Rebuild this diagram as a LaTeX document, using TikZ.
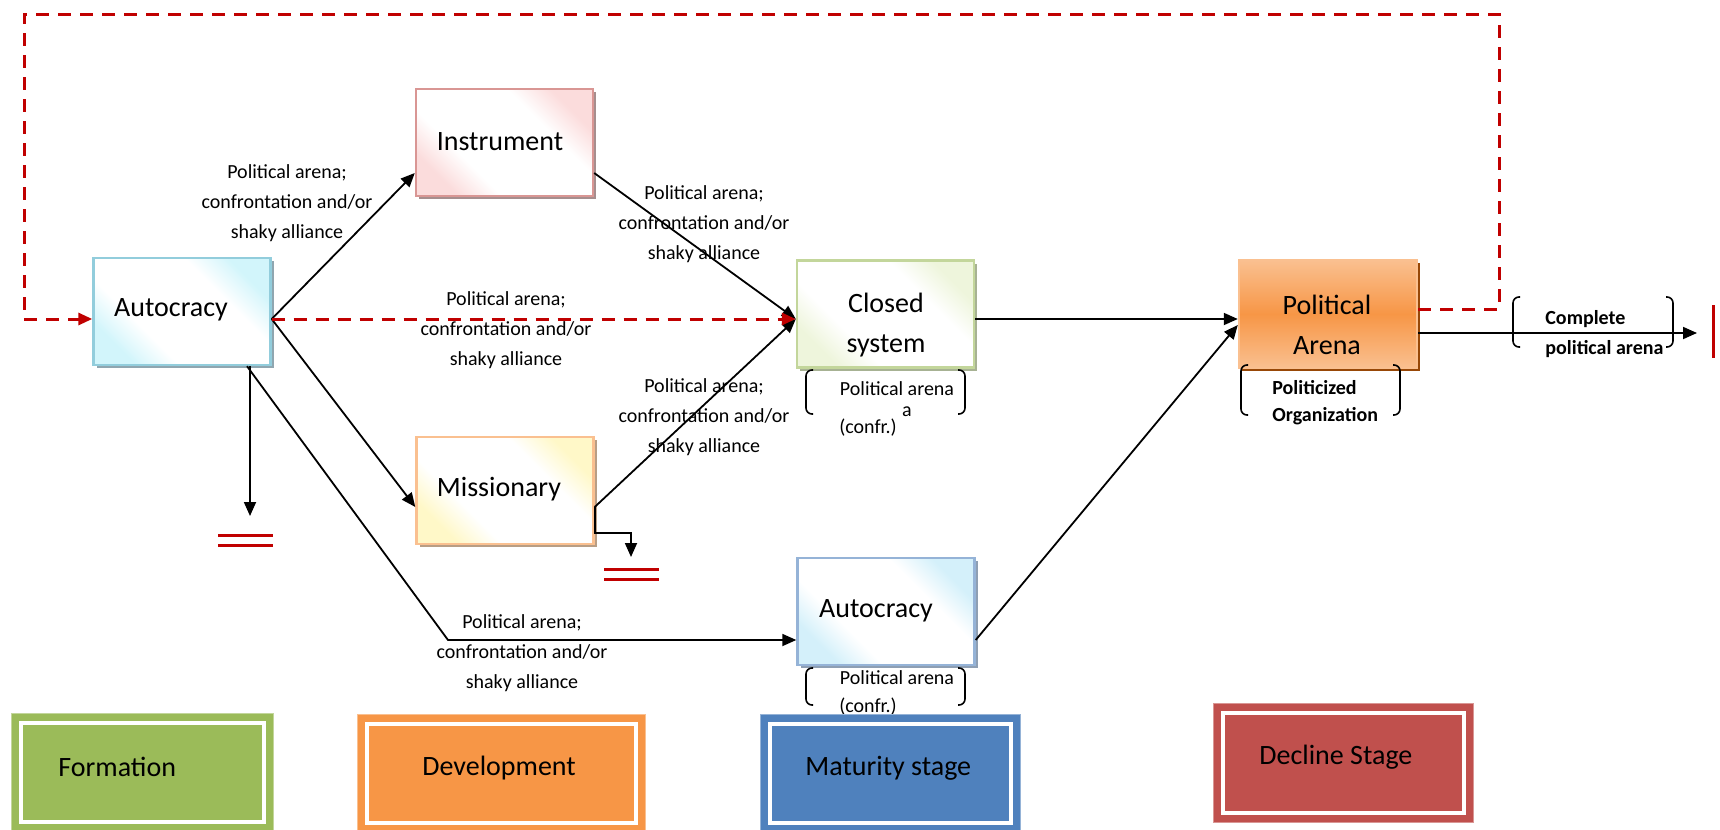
\documentclass[tikz,border=0pt]{standalone}
\usepackage{fontspec}
\setmainfont{Carlito}
\usetikzlibrary{arrows.meta,shadows,calc}
\definecolor{cred}{HTML}{C00000}
\definecolor{bdA}{HTML}{92CDDC}\definecolor{tA}{HTML}{D2F5FB}\definecolor{sA}{HTML}{8FA6B0}
\definecolor{bdI}{HTML}{D99694}\definecolor{tI}{HTML}{FBDCDC}\definecolor{sI}{HTML}{A68E8E}
\definecolor{bdC}{HTML}{C3D69B}\definecolor{tC}{HTML}{EEF5DC}\definecolor{sC}{HTML}{A7B293}
\definecolor{bdM}{HTML}{FAC090}\definecolor{tM}{HTML}{FFF8C8}\definecolor{sM}{HTML}{B89E85}
\definecolor{bdB}{HTML}{95B3D7}\definecolor{tB}{HTML}{D4F0FA}\definecolor{sB}{HTML}{8E9FB3}
\definecolor{paL}{HTML}{FAC090}\definecolor{paM}{HTML}{F79646}\definecolor{paS}{HTML}{984807}
\definecolor{lgF}{HTML}{9BBB59}\definecolor{lgD}{HTML}{F79646}\definecolor{lgM}{HTML}{4F81BD}\definecolor{lgR}{HTML}{C0504D}
\newcommand\mkshade[2]{\pgfdeclarehorizontalshading{#1}{100bp}{color(0bp)=(#2); color(25bp)=(#2); color(36bp)=(white); color(64bp)=(white); color(75bp)=(#2); color(100bp)=(#2)}}
\mkshade{shA}{tA}\mkshade{shI}{tI}\mkshade{shC}{tC}\mkshade{shM}{tM}\mkshade{shB}{tB}
\newcommand\brk[4]{%
  \draw[brkline] ({#1+7},#3) -- (#1,#3) -- (#1,#4) -- ({#1+7},#4);
  \draw[brkline] ({#2-7},#3) -- (#2,#3) -- (#2,#4) -- ({#2-7},#4);}
\tikzset{
  sbox/.style n args={3}{draw=#1, line width=1.2pt, shading=#2, shading angle=45,
    general shadow={fill=#3, shadow xshift=1.5pt, shadow yshift=-1.5pt},
    minimum width=88.5pt, minimum height=53.5pt, inner sep=0pt},
  mtxt/.style={font=\fontsize{14}{20}\selectfont, align=center, inner sep=0pt},
  lbl/.style={font=\fontsize{10}{15}\selectfont, align=center, inner sep=0pt},
  blbl/.style={font=\bfseries\fontsize{10}{15}\selectfont, align=left, inner sep=0pt, anchor=west},
  arr/.style={line width=0.9pt, -{Triangle[length=7pt,width=6pt]}},
  rdash/.style={cred, line width=1.5pt, dash pattern=on 6.5pt off 4.5pt},
  rbar/.style={cred, line width=1.5pt},
  brkline/.style={line width=0.8pt, rounded corners=3pt},
  legend/.style={fill=#1, draw=#1!60!white, line width=0.5pt, inner sep=0pt},
  legtxt/.style={font=\fontsize{14}{18}\selectfont, anchor=west, inner sep=0pt},
}
\begin{document}
\begin{tikzpicture}[x=0.5pt,y=-0.5pt]
\useasboundingbox (0,0) rectangle (1720,830);
% boxes
\node[sbox={bdA}{shA}{sA}] (auto1) at (182,311.5) {};
\node[sbox={bdI}{shI}{sI}] (instr) at (504.5,142.5) {};
\node[sbox={bdC}{shC}{sC}] (closed) at (885.5,314) {};
\node[sbox={bdM}{shM}{sM}] (miss) at (505,490.5) {};
\node[sbox={bdB}{shB}{sB}] (auto2) at (886,611.5) {};
\node[draw=paL, line width=1.2pt, top color=paL, bottom color=paL, middle color=paM,
  general shadow={fill=paS, shadow xshift=1.5pt, shadow yshift=-1.5pt},
  minimum width=89pt, minimum height=54pt, inner sep=0pt] (pa) at (1328,314) {};
% box texts
\node[mtxt] (auto1t) at (171,310) {Autocracy};
\node[mtxt] (instrt) at (500,142) {Instrument};
\node[mtxt] (closedt) at (886,325) {Closed\\system};
\node[mtxt] (misst) at (499,489) {Missionary};
\node[mtxt] (auto2t) at (876,611) {Autocracy};
\node[mtxt] (pat) at (1327,325) {Political\\Arena};
% coordinates
\coordinate (loopTR) at (1499,14);
\coordinate (loopTL) at (24,14);
\coordinate (autoend) at (250,516);
\coordinate (missend) at (631,557);
\coordinate (bend) at (448,640);
\coordinate (paend) at (1697,333);
% connectors
\draw[arr] ([yshift=-3.75pt]auto1.east) -- ([yshift=-15.25pt]instr.west);
\draw[arr] ([yshift=-3.75pt]auto1.east) -- ([yshift=-8.25pt]miss.west);
\draw[arr] ([yshift=-15.25pt]instr.east) -- ([yshift=-2.5pt]closed.west);
\draw[arr] ([yshift=-8.25pt]miss.east) -- ([yshift=-2.5pt]closed.west);
\draw[arr] ([yshift=-8.25pt]miss.east) -- ++(0,26) -| (missend);
\draw[arr] ([xshift=34pt]auto1.south) -- (autoend);
\draw[arr] ([xshift=32.5pt]auto1.south) -- (bend) -- ([yshift=-14.25pt]auto2.west);
\draw[arr] ([yshift=-2.5pt]closed.east) -- ([yshift=-2.5pt]pa.west);
\draw[arr] ([yshift=-14.25pt]auto2.east) -- ([yshift=-5.5pt]pa.west);
\draw[arr] ([yshift=-9.5pt]pa.east) -- (paend);
\draw[rdash, -{Triangle[length=7pt,width=6pt]}] ([yshift=-3.75pt]auto1.east) -- ([yshift=-2.5pt]closed.west);
\draw[rdash, -{Triangle[length=7pt,width=6pt]}] ([yshift=2.5pt]pa.east) -| (loopTR) -- (loopTL) |- ([yshift=-3.75pt]auto1.west);
% end bars
\draw[rbar] (218,535) -- (273,535);
\draw[rbar] (218,545) -- (273,545);
\draw[rbar] (604,569) -- (659,569);
\draw[rbar] (604,579) -- (659,579);
\draw[rbar] (1713,305) -- (1713,358);
% edge labels
\node[lbl] (l1) at (287,203) {Political arena;\\confrontation and/or\\shaky alliance};
\node[lbl] (l2) at (704,224) {Political arena;\\confrontation and/or\\shaky alliance};
\node[lbl] (l3) at (506,330) {Political arena;\\confrontation and/or\\shaky alliance};
\node[lbl] (l4) at (704,417) {Political arena;\\confrontation and/or\\shaky alliance};
\node[lbl] (l5) at (522,653) {Political arena;\\confrontation and/or\\shaky alliance};
% brackets
\brk{806}{965}{370}{414}
\node[lbl] (cb1) at (897,389) {Political arena};
\node[lbl] (cb2) at (868,428) {(confr.)};
\node[lbl] (cb3) at (907,412) {a};
\brk{806}{965}{668}{705}
\node[lbl] (ab1) at (897,678) {Political arena};
\node[lbl] (ab2) at (868,707) {(confr.)};
\brk{1241}{1400}{365}{415}
\node[blbl] (pb1) at (1272,388) {Politicized};
\node[blbl] (pb2) at (1272,416) {Organization};
\brk{1513}{1673}{297}{347}
\node[blbl] (cp1) at (1545,319) {Complete};
\node[blbl] (cp2) at (1545,349) {political arena};
% legend
\node[legend=lgF, minimum width=131pt, minimum height=59pt] (formation) at (142,772) {};
\node[legend=lgD, minimum width=144pt, minimum height=59pt] (develop) at (501,773) {};
\node[legend=lgM, minimum width=130pt, minimum height=59pt] (maturity) at (890,773) {};
\node[legend=lgR, minimum width=130pt, minimum height=59.5pt] (decline) at (1343,762.5) {};
\foreach \n in {formation,develop,maturity,decline}
  \draw[white, line width=2pt] ([shift={(5pt,-5pt)}]\n.north west) rectangle ([shift={(-5pt,5pt)}]\n.south east);
\node[legtxt] (formationt) at (58,767) {Formation};
\node[legtxt] (developt) at (422,768) {Development};
\node[legtxt] (maturityt) at (805,768) {Maturity stage};
\node[legtxt] (declinet) at (1259,757) {Decline Stage};
\end{tikzpicture}
\end{document}
